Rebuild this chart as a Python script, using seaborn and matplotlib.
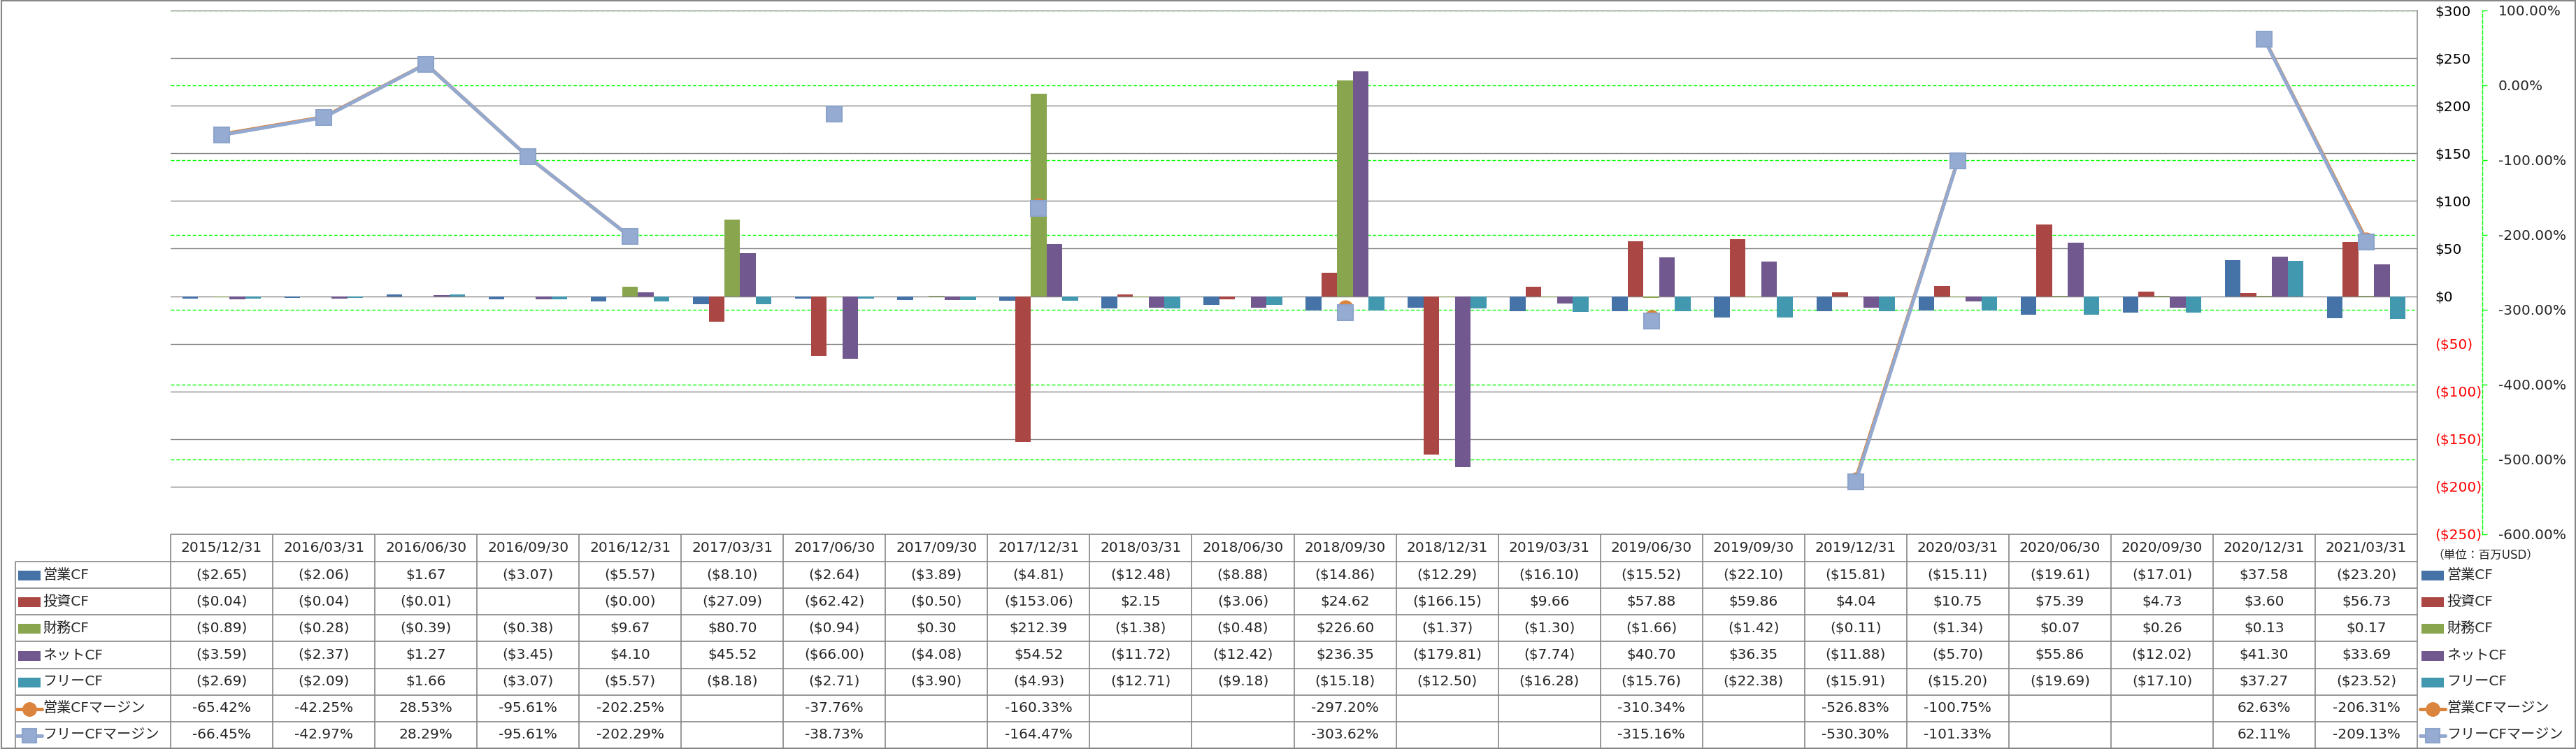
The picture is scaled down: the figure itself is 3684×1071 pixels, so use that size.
import numpy as np
import pandas as pd
import matplotlib
matplotlib.use("Agg")
import matplotlib.pyplot as plt
import seaborn as sns
from matplotlib.patches import Rectangle

nan = np.nan

# データ (単位: 百万USD)
dates = ["2015/12/31", "2016/03/31", "2016/06/30", "2016/09/30", "2016/12/31",
         "2017/03/31", "2017/06/30", "2017/09/30", "2017/12/31", "2018/03/31",
         "2018/06/30", "2018/09/30", "2018/12/31", "2019/03/31", "2019/06/30",
         "2019/09/30", "2019/12/31", "2020/03/31", "2020/06/30", "2020/09/30",
         "2020/12/31", "2021/03/31"]
op_cf = [-2.65, -2.06, 1.67, -3.07, -5.57, -8.10, -2.64, -3.89, -4.81, -12.48, -8.88,
         -14.86, -12.29, -16.10, -15.52, -22.10, -15.81, -15.11, -19.61, -17.01, 37.58, -23.20]
inv_cf = [-0.04, -0.04, -0.01, nan, -0.004, -27.09, -62.42, -0.50, -153.06, 2.15, -3.06,
          24.62, -166.15, 9.66, 57.88, 59.86, 4.04, 10.75, 75.39, 4.73, 3.60, 56.73]
fin_cf = [-0.89, -0.28, -0.39, -0.38, 9.67, 80.70, -0.94, 0.30, 212.39, -1.38, -0.48,
          226.60, -1.37, -1.30, -1.66, -1.42, -0.11, -1.34, 0.07, 0.26, 0.13, 0.17]
net_cf = [-3.59, -2.37, 1.27, -3.45, 4.10, 45.52, -66.00, -4.08, 54.52, -11.72, -12.42,
          236.35, -179.81, -7.74, 40.70, 36.35, -11.88, -5.70, 55.86, -12.02, 41.30, 33.69]
free_cf = [-2.69, -2.09, 1.66, -3.07, -5.57, -8.18, -2.71, -3.90, -4.93, -12.71, -9.18,
           -15.18, -12.50, -16.28, -15.76, -22.38, -15.91, -15.20, -19.69, -17.10, 37.27, -23.52]
op_margin = [-65.42, -42.25, 28.53, -95.61, -202.25, nan, -37.76, nan, -160.33, nan, nan,
             -297.20, nan, nan, -310.34, nan, -526.83, -100.75, nan, nan, 62.63, -206.31]
free_margin = [-66.45, -42.97, 28.29, -95.61, -202.29, nan, -38.73, nan, -164.47, nan, nan,
               -303.62, nan, nan, -315.16, nan, -530.30, -101.33, nan, nan, 62.11, -209.13]

bar_names = ["営業CF", "投資CF", "財務CF", "ネットCF", "フリーCF"]
bar_colors = ["#4572A7", "#AA4643", "#89A54E", "#71588F", "#4198AF"]
margin_names = ["営業CFマージン", "フリーCFマージン"]
margin_colors = ["#DB843D", "#93A9CF"]
usd_ticks = list(range(-250, 301, 50))
pct_ticks = list(range(-600, 101, 100))

sns.set_style("white")
plt.rcParams["font.family"] = ["DejaVu Sans", "Noto Sans CJK JP"]
FS = 14.5
GRAY = "#868686"
GREEN = "#00FF00"


def fmt_usd(v):
    return f"(${abs(v):.2f})" if v < 0 else f"${v:.2f}"


def fmt_pct(v):
    return f"{v:.2f}%"


# レイアウト (ピクセル)
W, H = 3684, 1071
L, R, T, B = 244, 3457, 15, 764
fig = plt.figure(figsize=(W / 100, H / 100), dpi=100)
rect = [L / W, 1 - B / H, (R - L) / W, (B - T) / H]

ax = fig.add_axes(rect)
ax2 = ax.twinx()   # 右軸 (%), 緑の補助線
ax3 = ax.twinx()   # マージン折れ線
ax2.set_zorder(0)
ax.set_zorder(1)
ax3.set_zorder(2)
for a in (ax, ax2, ax3):
    a.patch.set_visible(False)

# 棒グラフ
df = pd.DataFrame({
    "日付": np.tile(dates, 5),
    "系列": np.repeat(bar_names, len(dates)),
    "値": np.concatenate([op_cf, inv_cf, fin_cf, net_cf, free_cf]),
})
sns.barplot(data=df, x="日付", y="値", hue="系列", order=dates, hue_order=bar_names,
            palette=bar_colors, width=0.77, saturation=1, errorbar=None,
            linewidth=0, legend=False, ax=ax)
ax.set_xlim(-0.5, len(dates) - 0.5)
ax.set_ylim(-250, 300)
ax.set_xlabel("")
ax.set_ylabel("")
ax.tick_params(axis="x", bottom=False, labelbottom=False)
ax.yaxis.tick_right()
ax.set_yticks(usd_ticks)
ax.set_yticklabels([f"(${abs(v)})" if v < 0 else f"${v}" for v in usd_ticks])
ax.tick_params(axis="y", length=0, pad=18, labelsize=FS)
for lab, v in zip(ax.get_yticklabels(), usd_ticks):
    lab.set_color("red" if v < 0 else "black")
ax.grid(axis="y", color=GRAY, lw=1.0)
ax.grid(axis="x", visible=False)
ax.set_axisbelow(True)
for s in ["top", "left", "bottom"]:
    ax.spines[s].set_visible(False)
ax.spines["right"].set_color(GRAY)
ax.spines["right"].set_linewidth(1.1)

# 右軸 (%)
ax2.set_ylim(-600, 100)
ax2.set_yticks(pct_ticks)
ax2.set_yticklabels([fmt_pct(v) for v in pct_ticks])
ax2.tick_params(axis="y", length=5, width=1, color=GREEN, direction="out", pad=11.5,
                labelsize=FS)
for lab, v in zip(ax2.get_yticklabels(), pct_ticks):
    lab.set_color("red" if v < 0 else "black")
ax2.grid(axis="y", color=GREEN, lw=1.0, ls=(0, (3.6, 2)))
for s in ["top", "left", "bottom"]:
    ax2.spines[s].set_visible(False)
ax2.spines["right"].set_position(("outward", 67))
ax2.spines["right"].set_color(GREEN)
ax2.spines["right"].set_linestyle((0, (3.6, 2)))
ax2.spines["right"].set_linewidth(1.0)

# マージン折れ線
x = np.arange(len(dates))
ax3.set_ylim(-600, 100)
ax3.set_axis_off()
ax3.plot(x, op_margin, color=margin_colors[0], lw=3.6, marker="o", ms=15,
         mfc=margin_colors[0], mec=margin_colors[0], solid_capstyle="round")
ax3.plot(x, free_margin, color=margin_colors[1], lw=3.6, marker="s", ms=16,
         mfc="#95ABD1", mec="#8CA3CB", mew=1.5, solid_capstyle="round")

# データテーブル
tab = fig.add_axes([0, 0, 1, 1], zorder=3)
tab.patch.set_visible(False)
tab.set_xlim(0, W)
tab.set_ylim(H, 0)
tab.axis("off")

col_w = (R - L) / len(dates)
hdr_bot = 803
row_h = (1070 - hdr_bot) / 7
row_y = [hdr_bot + k * row_h for k in range(8)]
LBL = 22
lw_t = 1.2

tab.hlines(B, L, R, color=GRAY, lw=lw_t)
tab.hlines(row_y, LBL, R, color=GRAY, lw=lw_t)
tab.vlines([L + i * col_w for i in range(len(dates) + 1)], B, row_y[-1], color=GRAY, lw=lw_t)
tab.vlines(LBL, hdr_bot, row_y[-1], color=GRAY, lw=lw_t)

for i, d in enumerate(dates):
    tab.text(L + (i + 0.5) * col_w, (B + hdr_bot) / 2, d, ha="center", va="center", fontsize=FS)

rows = [[fmt_usd(v) if not np.isnan(v) else "" for v in s]
        for s in (op_cf, inv_cf, fin_cf, net_cf, free_cf)]
rows += [[fmt_pct(v) if not np.isnan(v) else "" for v in s] for s in (op_margin, free_margin)]
for r, vals in enumerate(rows):
    yc = (row_y[r] + row_y[r + 1]) / 2
    for i, t in enumerate(vals):
        tab.text(L + (i + 0.5) * col_w, yc, t, ha="center", va="center", fontsize=FS)


def legend_key(x0, yc, k):
    if k < 5:
        tab.add_patch(Rectangle((x0, yc - 6), 32, 14, color=bar_colors[k], lw=0))
    else:
        j = k - 5
        tab.plot([x0 - 2, x0 + 34], [yc + 1, yc + 1], color=margin_colors[j], lw=3.6,
                 solid_capstyle="round")
        if j == 0:
            tab.plot(x0 + 16, yc + 1, "o", ms=14, mfc=margin_colors[0], mec=margin_colors[0])
        else:
            tab.plot(x0 + 16, yc + 1, "s", ms=14, mfc="#95ABD1", mec="#8CA3CB", mew=1.5)


names = bar_names + margin_names
for k, name in enumerate(names):
    yc = (row_y[k] + row_y[k + 1]) / 2
    legend_key(26, yc, k)
    tab.text(61, yc, name, ha="left", va="center", fontsize=FS)
    legend_key(3463, yc, k)
    tab.text(3499, yc, name, ha="left", va="center", fontsize=FS)

tab.text(3478, 793, "（単位：百万USD）", ha="left", va="center", fontsize=12)

# 外枠
tab.add_patch(Rectangle((1.5, 0.5), W - 3, 1069.5, fill=False, ec=GRAY, lw=1.5))

fig.savefig("out.png", dpi=100)
